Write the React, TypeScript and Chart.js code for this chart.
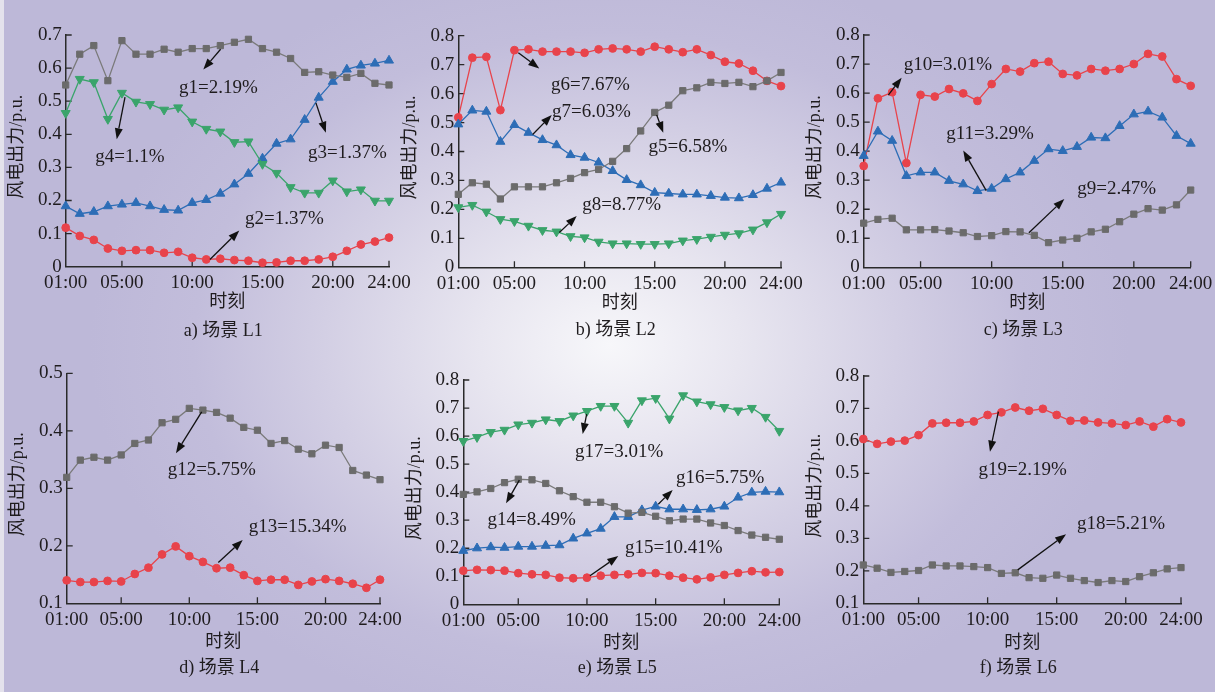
import React, { useEffect, useRef } from 'react';
import { Chart, registerables } from 'chart.js';

Chart.register(...registerables);

// ---------- data ----------
const hours = [1, 2, 3, 4, 5, 6, 7, 8, 9, 10, 11, 12, 13, 14, 15, 16, 17, 18, 19, 20, 21, 22, 23, 24];
const xTickHours = [1, 5, 10, 15, 20, 24];
const xTickLabels = ['01:00', '05:00', '10:00', '15:00', '20:00', '24:00'];

const g1 = [0.549, 0.642, 0.668, 0.562, 0.683, 0.642, 0.642, 0.657, 0.648, 0.659, 0.659, 0.668, 0.678, 0.687, 0.659, 0.648, 0.629, 0.587, 0.589, 0.579, 0.572, 0.584, 0.554, 0.549];
const g2 = [0.118, 0.093, 0.081, 0.055, 0.048, 0.05, 0.05, 0.042, 0.045, 0.027, 0.022, 0.024, 0.02, 0.018, 0.012, 0.013, 0.018, 0.018, 0.022, 0.03, 0.048, 0.067, 0.076, 0.088];
const g3 = [0.183, 0.16, 0.166, 0.183, 0.188, 0.193, 0.183, 0.172, 0.17, 0.193, 0.202, 0.221, 0.249, 0.281, 0.327, 0.372, 0.385, 0.444, 0.511, 0.559, 0.596, 0.608, 0.614, 0.623];
const g4 = [0.464, 0.567, 0.557, 0.446, 0.525, 0.498, 0.491, 0.474, 0.481, 0.438, 0.416, 0.408, 0.376, 0.378, 0.31, 0.283, 0.24, 0.223, 0.223, 0.26, 0.227, 0.233, 0.199, 0.199];

const g5 = [0.252, 0.292, 0.287, 0.236, 0.278, 0.278, 0.278, 0.292, 0.307, 0.327, 0.338, 0.366, 0.41, 0.471, 0.535, 0.56, 0.61, 0.62, 0.639, 0.635, 0.639, 0.624, 0.644, 0.673];
const g6 = [0.518, 0.724, 0.727, 0.543, 0.75, 0.753, 0.745, 0.745, 0.745, 0.741, 0.753, 0.756, 0.753, 0.745, 0.762, 0.753, 0.743, 0.753, 0.733, 0.71, 0.704, 0.679, 0.644, 0.626];
const g7 = [0.494, 0.542, 0.538, 0.434, 0.492, 0.465, 0.44, 0.422, 0.388, 0.379, 0.362, 0.333, 0.302, 0.284, 0.258, 0.255, 0.252, 0.252, 0.247, 0.241, 0.239, 0.25, 0.272, 0.293];
const g8 = [0.207, 0.215, 0.192, 0.166, 0.159, 0.143, 0.128, 0.123, 0.107, 0.103, 0.088, 0.082, 0.082, 0.08, 0.08, 0.082, 0.092, 0.097, 0.105, 0.112, 0.117, 0.13, 0.155, 0.184];

const g9 = [0.152, 0.165, 0.169, 0.129, 0.129, 0.13, 0.125, 0.119, 0.106, 0.109, 0.123, 0.122, 0.11, 0.085, 0.094, 0.1, 0.122, 0.131, 0.157, 0.183, 0.202, 0.197, 0.215, 0.266];
const g10 = [0.349, 0.582, 0.603, 0.359, 0.594, 0.588, 0.614, 0.599, 0.573, 0.631, 0.683, 0.674, 0.703, 0.708, 0.666, 0.661, 0.683, 0.677, 0.683, 0.7, 0.735, 0.726, 0.648, 0.625];
const g11 = [0.384, 0.468, 0.436, 0.315, 0.327, 0.327, 0.298, 0.286, 0.263, 0.271, 0.304, 0.327, 0.367, 0.407, 0.401, 0.415, 0.447, 0.445, 0.487, 0.527, 0.537, 0.516, 0.453, 0.426];

const g12 = [0.319, 0.349, 0.354, 0.349, 0.358, 0.378, 0.384, 0.414, 0.42, 0.439, 0.436, 0.432, 0.422, 0.406, 0.401, 0.378, 0.383, 0.368, 0.36, 0.375, 0.371, 0.331, 0.323, 0.315];
const g13 = [0.14, 0.137, 0.137, 0.139, 0.138, 0.151, 0.162, 0.185, 0.199, 0.182, 0.172, 0.161, 0.162, 0.149, 0.139, 0.141, 0.141, 0.132, 0.138, 0.142, 0.139, 0.134, 0.127, 0.141];

const g14 = [0.392, 0.401, 0.413, 0.434, 0.446, 0.444, 0.431, 0.405, 0.384, 0.364, 0.364, 0.348, 0.325, 0.328, 0.314, 0.298, 0.304, 0.304, 0.29, 0.281, 0.263, 0.247, 0.239, 0.232];
const g15 = [0.12, 0.123, 0.122, 0.12, 0.111, 0.107, 0.105, 0.095, 0.093, 0.095, 0.102, 0.105, 0.107, 0.112, 0.111, 0.102, 0.095, 0.089, 0.096, 0.105, 0.112, 0.118, 0.114, 0.115];
const g16 = [0.191, 0.2, 0.204, 0.202, 0.206, 0.206, 0.209, 0.211, 0.235, 0.253, 0.27, 0.312, 0.312, 0.336, 0.349, 0.339, 0.339, 0.337, 0.339, 0.349, 0.381, 0.399, 0.402, 0.4];
const g17 = [0.582, 0.596, 0.614, 0.622, 0.641, 0.647, 0.659, 0.653, 0.673, 0.689, 0.707, 0.707, 0.647, 0.727, 0.735, 0.662, 0.745, 0.723, 0.713, 0.703, 0.691, 0.7, 0.668, 0.618];

const g18 = [0.218, 0.208, 0.195, 0.198, 0.201, 0.218, 0.215, 0.215, 0.213, 0.21, 0.192, 0.194, 0.179, 0.177, 0.187, 0.177, 0.17, 0.164, 0.17, 0.167, 0.182, 0.194, 0.206, 0.21];
const g19 = [0.606, 0.591, 0.598, 0.601, 0.618, 0.654, 0.656, 0.656, 0.66, 0.68, 0.688, 0.703, 0.693, 0.699, 0.68, 0.662, 0.663, 0.657, 0.654, 0.649, 0.66, 0.644, 0.667, 0.657];

// annotations: label, text centre (hour, value), arrow from (hour, value) to (hour, value)
type Note = { label: string; tx: number; ty: number; x1: number; y1: number; x2: number; y2: number };
const notesA: Note[] = [
  { label: 'g1=2.19%', tx: 11.87, ty: 0.54, x1: 12.02, y1: 0.657, x2: 10.79, y2: 0.596 },
  { label: 'g4=1.1%', tx: 5.57, ty: 0.331, x1: 5.22, y1: 0.512, x2: 4.63, y2: 0.385 },
  { label: 'g3=1.37%', tx: 21.04, ty: 0.344, x1: 18.8, y1: 0.495, x2: 19.51, y2: 0.405 },
  { label: 'g2=1.37%', tx: 16.56, ty: 0.144, x1: 11.26, y1: 0.022, x2: 13.35, y2: 0.109 },
];
const notesB: Note[] = [
  { label: 'g6=7.67%', tx: 10.42, ty: 0.63, x1: 5.28, y1: 0.741, x2: 6.77, y2: 0.687 },
  { label: 'g7=6.03%', tx: 10.48, ty: 0.537, x1: 6.3, y1: 0.459, x2: 7.66, y2: 0.526 },
  { label: 'g5=6.58%', tx: 17.37, ty: 0.417, x1: 15.14, y1: 0.526, x2: 15.61, y2: 0.465 },
  { label: 'g8=8.77%', tx: 12.65, ty: 0.215, x1: 8.2, y1: 0.12, x2: 9.44, y2: 0.177 },
];
const notesC: Note[] = [
  { label: 'g10=3.01%', tx: 6.93, ty: 0.697, x1: 2.73, y1: 0.593, x2: 3.67, y2: 0.653 },
  { label: 'g11=3.29%', tx: 9.88, ty: 0.458, x1: 9.62, y1: 0.264, x2: 8.0, y2: 0.402 },
  { label: 'g9=2.47%', tx: 18.79, ty: 0.269, x1: 12.62, y1: 0.119, x2: 15.11, y2: 0.235 },
];
const notesD: Note[] = [
  { label: 'g12=5.75%', tx: 11.65, ty: 0.332, x1: 10.91, y1: 0.433, x2: 9.02, y2: 0.361 },
  { label: 'g13=15.34%', tx: 17.95, ty: 0.233, x1: 12.13, y1: 0.171, x2: 13.92, y2: 0.21 },
];
const notesE: Note[] = [
  { label: 'g17=3.01%', tx: 12.35, ty: 0.543, x1: 9.98, y1: 0.678, x2: 9.69, y2: 0.607 },
  { label: 'g14=8.49%', tx: 5.98, ty: 0.301, x1: 5.08, y1: 0.443, x2: 4.11, y2: 0.36 },
  { label: 'g16=5.75%', tx: 19.7, ty: 0.449, x1: 15.19, y1: 0.357, x2: 16.24, y2: 0.408 },
  { label: 'g15=10.41%', tx: 16.32, ty: 0.202, x1: 10.22, y1: 0.102, x2: 12.28, y2: 0.172 },
];
const notesF: Note[] = [
  { label: 'g19=2.19%', tx: 12.53, ty: 0.511, x1: 10.78, y1: 0.69, x2: 10.17, y2: 0.567 },
  { label: 'g18=5.21%', tx: 19.66, ty: 0.343, x1: 12.18, y1: 0.203, x2: 15.68, y2: 0.313 },
];

// ---------- styles ----------
const FONT = '"Liberation Serif", "Noto Sans CJK SC", serif';
const TEXT = '#1f1c1e';
const AXIS = '#2a2a2a';

type StyleKey = 'gray' | 'red' | 'blue' | 'green';
const STYLES: Record<StyleKey, { line: string; fill: string; point: string; radius: number; rotation: number }> = {
  gray: { line: '#7a7a7a', fill: '#6b6b6b', point: 'rect', radius: 4.4, rotation: 0 },
  red: { line: '#e8434b', fill: '#e8434b', point: 'circle', radius: 3.9, rotation: 0 },
  blue: { line: '#2d6db6', fill: '#2d6db6', point: 'triangle', radius: 5.2, rotation: 0 },
  green: { line: '#3aa46b', fill: '#3aa46b', point: 'triangle', radius: 5.2, rotation: 180 },
};

type Series = { name: string; data: number[]; style: StyleKey };
type Panel = {
  title: string;
  yMin: number;
  yMax: number;
  series: Series[];
  notes: Note[];
  box: [number, number, number, number];
  area: [number, number, number, number];
  xTitleDy: number;
  subDy: number;
};

const panels: Panel[] = [
  {
    title: 'a) 场景 L1', yMin: 0, yMax: 0.7,
    series: [
      { name: 'g1', data: g1, style: 'gray' },
      { name: 'g4', data: g4, style: 'green' },
      { name: 'g3', data: g3, style: 'blue' },
      { name: 'g2', data: g2, style: 'red' },
    ],
    notes: notesA, box: [0, 0, 420, 350], area: [65.7, 35, 389, 266.7], xTitleDy: 36, subDy: 65,
  },
  {
    title: 'b) 场景 L2', yMin: 0, yMax: 0.8,
    series: [
      { name: 'g5', data: g5, style: 'gray' },
      { name: 'g8', data: g8, style: 'green' },
      { name: 'g7', data: g7, style: 'blue' },
      { name: 'g6', data: g6, style: 'red' },
    ],
    notes: notesB, box: [400, 0, 415, 350], area: [458.3, 35.7, 781, 267.3], xTitleDy: 36, subDy: 63,
  },
  {
    title: 'c) 场景 L3', yMin: 0, yMax: 0.8,
    series: [
      { name: 'g9', data: g9, style: 'gray' },
      { name: 'g11', data: g11, style: 'blue' },
      { name: 'g10', data: g10, style: 'red' },
    ],
    notes: notesC, box: [805, 0, 410, 350], area: [863.7, 35, 1190.7, 267.3], xTitleDy: 36, subDy: 63,
  },
  {
    title: 'd) 场景 L4', yMin: 0.1, yMax: 0.5,
    series: [
      { name: 'g12', data: g12, style: 'gray' },
      { name: 'g13', data: g13, style: 'red' },
    ],
    notes: notesD, box: [0, 345, 420, 347], area: [66.7, 373.3, 380, 603.3], xTitleDy: 39, subDy: 65,
  },
  {
    title: 'e) 场景 L5', yMin: 0, yMax: 0.8,
    series: [
      { name: 'g14', data: g14, style: 'gray' },
      { name: 'g17', data: g17, style: 'green' },
      { name: 'g16', data: g16, style: 'blue' },
      { name: 'g15', data: g15, style: 'red' },
    ],
    notes: notesE, box: [400, 345, 415, 347], area: [463.3, 380, 779.3, 604.3], xTitleDy: 39, subDy: 64,
  },
  {
    title: 'f) 场景 L6', yMin: 0.1, yMax: 0.8,
    series: [
      { name: 'g18', data: g18, style: 'gray' },
      { name: 'g19', data: g19, style: 'red' },
    ],
    notes: notesF, box: [805, 345, 410, 347], area: [863.3, 376, 1181, 603.3], xTitleDy: 40, subDy: 65,
  },
];

const Y_AXIS_W = 40;
const X_AXIS_H = 30;

function makeDeco(panel: Panel) {
  return {
    id: 'deco',
    beforeDatasetsDraw(chart: any) {
      const { ctx, chartArea: a, scales } = chart;
      const x = scales.x;
      const y = scales.y;
      ctx.save();
      ctx.strokeStyle = AXIS;
      ctx.lineWidth = 1.3;
      ctx.beginPath();
      xTickHours.forEach((v) => {
        if (v === 1) return;
        const px = x.getPixelForValue(v);
        ctx.moveTo(px, a.bottom);
        ctx.lineTo(px, a.bottom - 6);
      });
      y.ticks.forEach((t: any) => {
        const py = y.getPixelForValue(t.value);
        if (Math.abs(py - a.bottom) < 1) return;
        ctx.moveTo(a.left, py);
        ctx.lineTo(a.left + 6, py);
      });
      ctx.stroke();
      ctx.restore();
    },
    afterDraw(chart: any) {
      const { ctx, chartArea: a, scales } = chart;
      const x = scales.x;
      const y = scales.y;
      ctx.save();
      ctx.fillStyle = TEXT;
      ctx.textAlign = 'center';
      ctx.textBaseline = 'middle';
      // annotations
      panel.notes.forEach((n) => {
        ctx.font = `19px ${FONT}`;
        ctx.fillStyle = TEXT;
        ctx.fillText(n.label, x.getPixelForValue(n.tx), y.getPixelForValue(n.ty));
        const px1 = x.getPixelForValue(n.x1);
        const py1 = y.getPixelForValue(n.y1);
        const px2 = x.getPixelForValue(n.x2);
        const py2 = y.getPixelForValue(n.y2);
        const ang = Math.atan2(py2 - py1, px2 - px1);
        const head = 11;
        const half = 4;
        const bx = px2 - Math.cos(ang) * head;
        const by = py2 - Math.sin(ang) * head;
        ctx.strokeStyle = '#111';
        ctx.lineWidth = 1.3;
        ctx.beginPath();
        ctx.moveTo(px1, py1);
        ctx.lineTo(bx, by);
        ctx.stroke();
        ctx.fillStyle = '#111';
        ctx.beginPath();
        ctx.moveTo(px2, py2);
        ctx.lineTo(bx - Math.sin(ang) * half, by + Math.cos(ang) * half);
        ctx.lineTo(bx + Math.sin(ang) * half, by - Math.cos(ang) * half);
        ctx.closePath();
        ctx.fill();
      });
      // axis titles
      ctx.fillStyle = TEXT;
      ctx.font = `18px ${FONT}`;
      const cx = (a.left + a.right) / 2;
      ctx.fillText('时刻', cx, a.bottom + panel.xTitleDy);
      ctx.font = `18px ${FONT}`;
      ctx.fillText(panel.title, cx - 4, a.bottom + panel.subDy);
      ctx.save();
      ctx.translate(a.left - 48, (a.top + a.bottom) / 2 - 4);
      ctx.rotate(-Math.PI / 2);
      ctx.font = `18px ${FONT}`;
      ctx.fillText('风电出力/p.u.', 0, 0);
      ctx.restore();
      ctx.restore();
    },
  };
}

function buildConfig(panel: Panel): any {
  const [bl, bt, bw, bh] = panel.box;
  const [al, at, ar, ab] = panel.area;
  const padding = {
    left: al - bl - Y_AXIS_W,
    top: at - bt,
    right: bl + bw - ar,
    bottom: bt + bh - ab - X_AXIS_H,
  };
  const datasets = panel.series.map((s) => {
    const st = STYLES[s.style];
    return {
      label: s.name,
      data: hours.map((h, i) => ({ x: h, y: s.data[i] })),
      borderColor: st.line,
      backgroundColor: st.fill,
      borderWidth: 1.3,
      pointStyle: st.point,
      pointRadius: st.radius,
      pointRotation: st.rotation,
      pointBackgroundColor: st.fill,
      pointBorderColor: st.fill,
      pointBorderWidth: 1,
      tension: 0,
      fill: false,
      clip: false,
    };
  });
  return {
    type: 'line',
    data: { datasets },
    options: {
      responsive: false,
      animation: false,
      devicePixelRatio: 1,
      layout: { padding },
      plugins: { legend: { display: false }, tooltip: { enabled: false }, title: { display: false } },
      scales: {
        x: {
          type: 'linear',
          min: 1,
          max: 24,
          afterBuildTicks: (scale: any) => {
            scale.ticks = xTickHours.map((v) => ({ value: v }));
          },
          afterFit: (scale: any) => {
            scale.height = X_AXIS_H;
            scale.paddingLeft = 0;
            scale.paddingRight = 0;
          },
          ticks: {
            autoSkip: false,
            maxRotation: 0,
            padding: 5,
            color: TEXT,
            font: { family: FONT, size: 19 },
            callback: (v: number) => {
              const i = xTickHours.indexOf(v);
              return i >= 0 ? xTickLabels[i] : '';
            },
          },
          grid: { display: false, drawTicks: false },
          border: { display: true, color: AXIS, width: 1.5 },
        },
        y: {
          type: 'linear',
          min: panel.yMin,
          max: panel.yMax,
          afterFit: (scale: any) => {
            scale.width = Y_AXIS_W;
            scale.paddingTop = 0;
            scale.paddingBottom = 0;
          },
          ticks: {
            stepSize: 0.1,
            padding: 4,
            color: TEXT,
            font: { family: FONT, size: 19 },
          },
          grid: { display: false, drawTicks: false },
          border: { display: true, color: AXIS, width: 1.5 },
        },
      },
    },
    plugins: [makeDeco(panel)],
  };
}

function PanelChart({ panel }: { panel: Panel }) {
  const ref = useRef<HTMLCanvasElement>(null);
  useEffect(() => {
    if (!ref.current) return;
    const chart = new Chart(ref.current, buildConfig(panel));
    return () => chart.destroy();
  }, [panel]);
  const [l, t, w, h] = panel.box;
  return (
    <canvas
      ref={ref}
      width={w}
      height={h}
      style={{ position: 'absolute', left: l, top: t, width: w, height: h }}
    />
  );
}

export default function App() {
  return (
    <div
      style={{
        position: 'fixed',
        left: 0,
        top: 0,
        width: 1215,
        height: 692,
        overflow: 'hidden',
        background:
          'radial-gradient(ellipse 520px 390px at 610px 345px, #f7f7fa 0%, #e8e6f0 25%, #d3cfe4 55%, #c2bddb 80%, #bdb8d8 100%)',
      }}
    >
      <div style={{ position: 'absolute', left: 0, top: 0, width: 4, height: 692, background: '#e4e2ec' }} />
      {panels.map((p) => (
        <PanelChart key={p.title} panel={p} />
      ))}
    </div>
  );
}
